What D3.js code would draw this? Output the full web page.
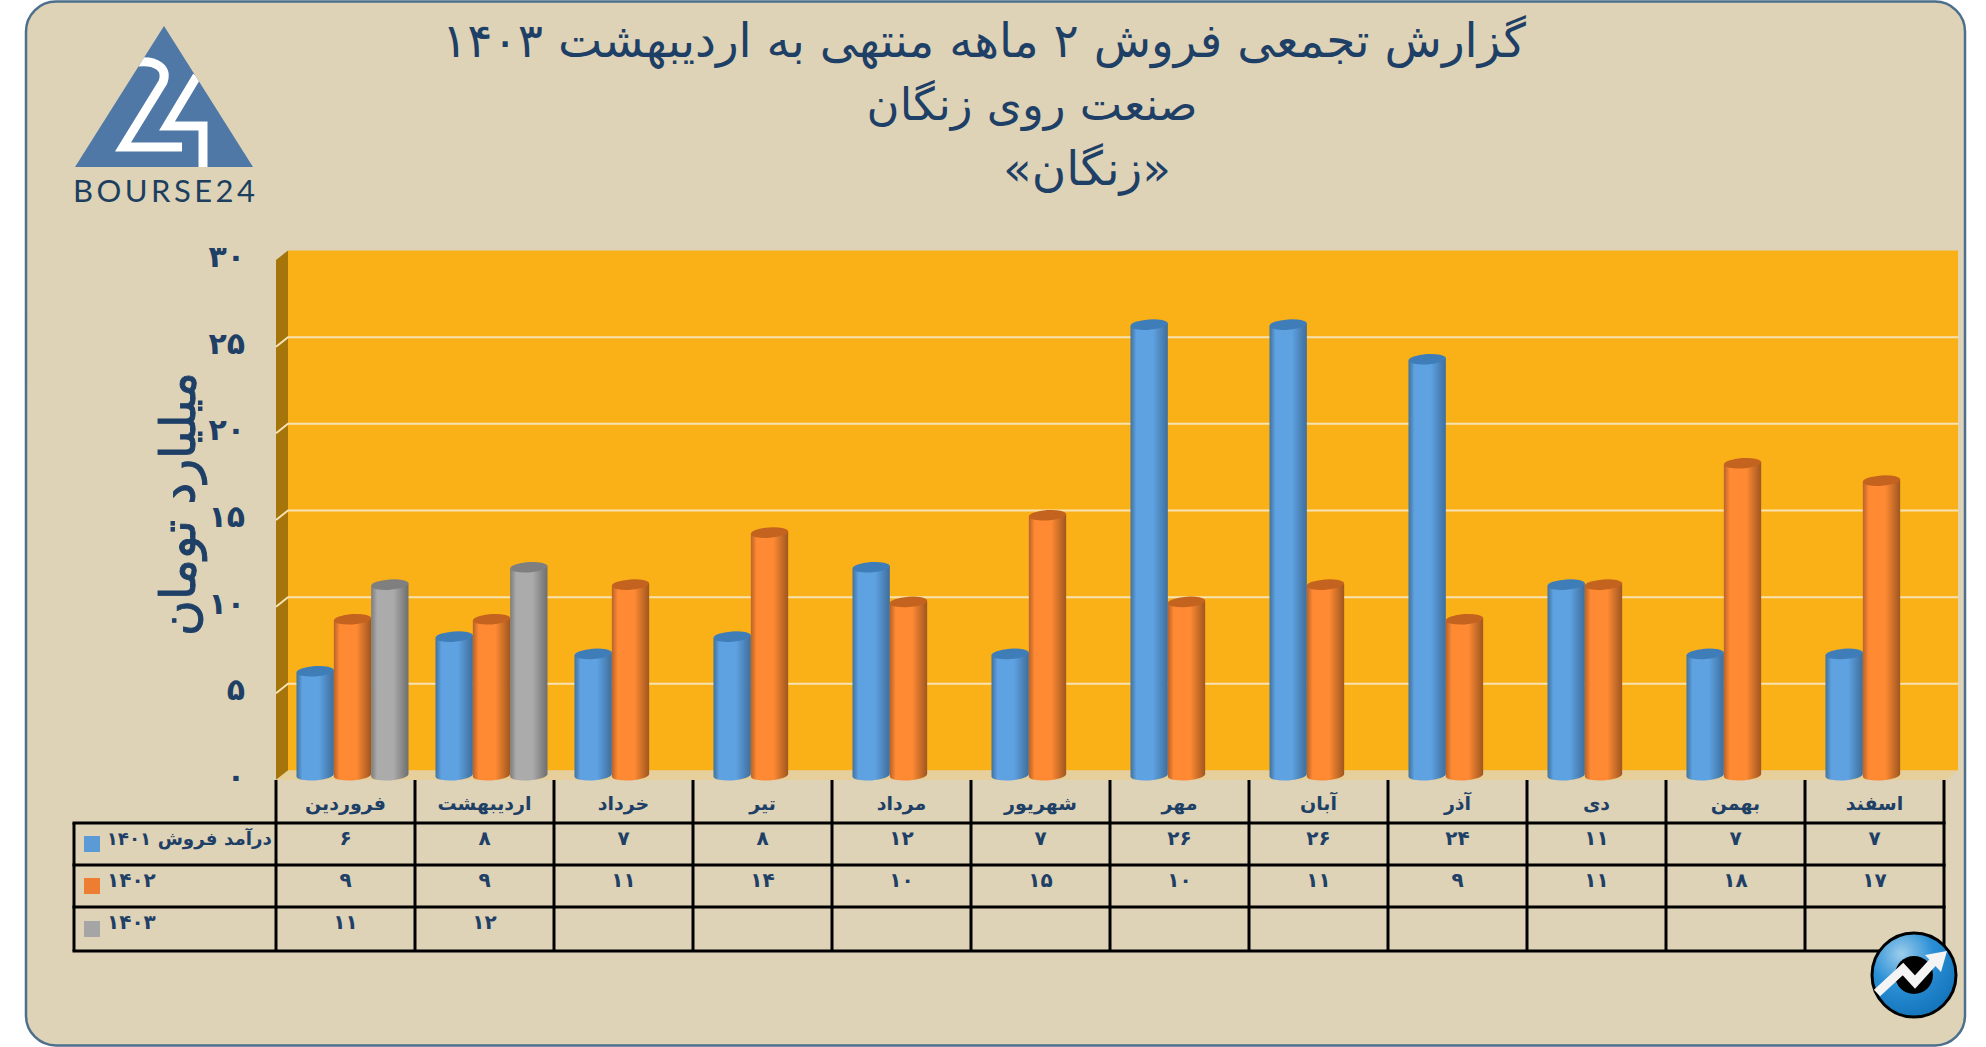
<!DOCTYPE html>
<html lang="fa"><head><meta charset="utf-8">
<script src="https://cdn.jsdelivr.net/npm/d3@7"></script>
<style>
html,body{margin:0;padding:0;background:#fff}
svg{display:block}
text{font-family:"DejaVu Sans",sans-serif;fill:#1E3F66}
.rtl{direction:rtl;unicode-bidi:plaintext}
</style></head><body>
<svg id="c" width="1986" height="1047"></svg>
<script>
const months=["فروردین","اردیبهشت","خرداد","تیر","مرداد","شهریور","مهر","آبان","آذر","دی","بهمن","اسفند"];
const seriesNames=["درآمد فروش ۱۴۰۱","۱۴۰۲","۱۴۰۳"];
const values1401=[6,8,7,8,12,7,26,26,24,11,7,7];
const values1402=[9,9,11,14,10,15,10,11,9,11,18,17];
const values1403=[11,12,null,null,null,null,null,null,null,null,null,null];
const seriesValues=[values1401,values1402,values1403];
const seriesColors=[
 {edgeL:"#41719C",mid:"#5EA2E2",edgeR:"#3F6E9C",top:"#3F7DB8",sw:"#5B9BD5"},
 {edgeL:"#B9622A",mid:"#FF8A33",edgeR:"#9F5620",top:"#C4621F",sw:"#ED7D31"},
 {edgeL:"#7C7C7C",mid:"#ABABAB",edgeR:"#6E6E6E",top:"#7F7F7F",sw:"#A5A5A5"}];
const titleLines=["گزارش تجمعی فروش ۲ ماهه منتهی به اردیبهشت ۱۴۰۳","صنعت روی زنگان","«زنگان»"];
const yTitle="میلیارد تومان";
const fa=n=>String(n).replace(/\d/g,d=>"۰۱۲۳۴۵۶۷۸۹"[d]);

const svg=d3.select("#c"), defs=svg.append("defs");
// panel
svg.append("rect").attr("x",26).attr("y",1.5).attr("width",1939).attr("height",1044).attr("rx",30)
  .attr("fill","#DED3B7").attr("stroke","#4C6F8C").attr("stroke-width",2.5);

// scales
const y=d3.scaleLinear().domain([0,30]).range([770.5,250.5]);
const tableL=276, tableR=1944, depthX=12, depthY=9.5;
const x0=d3.scaleBand().domain(months).range([tableL,tableR]);
const x1=d3.scaleBand().domain(d3.range(3)).range([20.5,132.5]);

// walls
svg.append("rect").attr("x",tableL+depthX).attr("y",y(30)).attr("width",1958-tableL-depthX).attr("height",y(0)-y(30)).attr("fill","#FAB118");
svg.append("path").attr("fill","#A5740B")
  .attr("d",d3.line()([[tableL,y(30)+depthY],[tableL+depthX,y(30)],[tableL+depthX,y(0)],[tableL,y(0)+depthY]])+"Z");
svg.append("path").attr("fill","#E6CF9B")
  .attr("d",d3.line()([[tableL,y(0)+depthY],[tableL+depthX,y(0)],[1958,y(0)],[1946,y(0)+depthY]])+"Z");

// grid
const ticks=y.ticks(6);
const grid=svg.append("g").attr("fill","none").attr("stroke","#F7E3B2").attr("stroke-width",2);
grid.selectAll("path").data(ticks.filter(t=>t>0&&t<30)).join("path")
  .attr("d",t=>d3.line()([[tableL,y(t)+depthY],[tableL+depthX,y(t)],[1958,y(t)]]));

// y axis
const axis=svg.append("g").attr("transform",`translate(245,${depthY-3})`)
  .call(d3.axisLeft(y).ticks(6).tickSize(0).tickPadding(0).tickFormat(fa));
axis.select(".domain").remove();
axis.selectAll("text").style("font-family",'"DejaVu Sans",sans-serif').style("font-size","30px").style("font-weight","700").style("fill","#1E3F66");
svg.append("text").attr("class","rtl").attr("transform","translate(195,504) rotate(-90)").attr("text-anchor","middle")
  .style("font-size","49px").style("stroke","#1E3F66").style("stroke-width","0.9").text(yTitle);

// gradients
seriesColors.forEach((c,i)=>{
  const g=defs.append("linearGradient").attr("id","cyl"+i);
  [[0,c.edgeL],[.16,c.mid],[.6,c.mid],[1,c.edgeR]].forEach(s=>g.append("stop").attr("offset",s[0]).attr("stop-color",s[1]));
});
// cylinders
const barW=x1.bandwidth(), rx=barW/2, ry=5.2, tiltDeg=-4, tiltY=rx*Math.sin(tiltDeg*Math.PI/180);
const baseOffset=depthY/2;
const groups=svg.append("g").selectAll("g").data(months).join("g").attr("transform",m=>`translate(${x0(m)},0)`);
seriesValues.forEach((vals,si)=>{
  const marks=groups.filter((m,i)=>vals[i]!=null).append("g").attr("transform",`translate(${x1(si)},0)`);
  const val=m=>vals[months.indexOf(m)];
  const topY=m=>y(val(m))+baseOffset, botY=y(0)+baseOffset;
  marks.append("path").attr("fill",`url(#cyl${si})`)
    .attr("d",m=>`M0,${topY(m)-tiltY}L0,${botY-tiltY}A${rx},${ry} ${tiltDeg} 0 0 ${barW},${botY+tiltY}L${barW},${topY(m)+tiltY}Z`);
  marks.append("ellipse").attr("rx",rx).attr("ry",ry).attr("fill",seriesColors[si].top)
    .attr("transform",m=>`translate(${rx},${topY(m)}) rotate(${tiltDeg})`);
});

// table
const rowY=[823,865,907,951], tableLeft=74;
const tl=svg.append("g").attr("stroke","#000").attr("stroke-width",3).attr("fill","none");
tl.selectAll(".h").data(rowY).join("line").attr("class","h").attr("x1",tableLeft-1.5).attr("x2",tableR+1.5).attr("y1",d=>d).attr("y2",d=>d);
const vx=months.map(m=>x0(m)).concat([tableR]);
tl.selectAll(".v").data(vx).join("line").attr("class","v").attr("x1",d=>d).attr("x2",d=>d).attr("y1",780).attr("y2",951);
tl.append("line").attr("x1",tableLeft).attr("x2",tableLeft).attr("y1",823).attr("y2",951);

svg.append("g").selectAll("text").data(months).join("text").attr("class","rtl")
  .attr("x",m=>x0(m)+x0.bandwidth()/2).attr("y",810).attr("text-anchor","middle")
  .style("font-size","19px").style("font-weight","700").text(m=>m);
const rowText=[845,886.5,928.5], swatchY=[836,878,921];
seriesValues.forEach((vals,si)=>{
  svg.append("g").selectAll("text").data(months.filter((m,i)=>vals[i]!=null)).join("text")
   .attr("x",m=>x0(m)+x0.bandwidth()/2).attr("y",rowText[si]).attr("text-anchor","middle")
   .style("font-size","20px").style("font-weight","700").text(m=>fa(vals[months.indexOf(m)]));
  svg.append("rect").attr("x",84).attr("y",swatchY[si]).attr("width",16).attr("height",16).attr("fill",seriesColors[si].sw);
  svg.append("text").attr("class","rtl").attr("x",si==0?272:107).attr("y",rowText[si])
   .attr("text-anchor",si==0?"start":"end").style("direction","rtl")
   .style("font-size",si==0?"18.3px":"20px").style("font-weight","700").text(seriesNames[si]);
});

// title
const title=svg.append("g").attr("text-anchor","middle");
[[984,57,47],[1032,120,45],[1087,185,47]].forEach((p,i)=>{
  title.append("text").attr("class","rtl").attr("x",p[0]).attr("y",p[1]).style("direction","rtl").style("font-size",p[2]+"px").text(titleLines[i]);
});

// logo
defs.append("clipPath").attr("id","tri").append("path").attr("d","M164,26L253,167L75,167Z");
const logo=svg.append("g");
logo.append("path").attr("d","M164,26L253,167L75,167Z").attr("fill","#4F78A6");
logo.append("path").attr("clip-path","url(#tri)").attr("fill","none").attr("stroke","#fff").attr("stroke-width",9)
  .attr("d","M138,62C156,60 168,68 163,82L123,147L182,147");
logo.append("path").attr("clip-path","url(#tri)").attr("fill","none").attr("stroke","#fff").attr("stroke-width",9)
  .attr("d","M197,76L167,126L203,126L203,167");
svg.append("text").attr("x",73).attr("y",202).attr("textLength",182).attr("lengthAdjust","spacing")
  .style("font-family","Lato,sans-serif").style("font-size","31px").style("fill","#1D3F5F").text("BOURSE24");

// badge
const rg=defs.append("radialGradient").attr("id","badge").attr("cx","35%").attr("cy","25%").attr("r","85%");
[[0,"#9CCDEB"],[.45,"#2A8FD6"],[1,"#0F6FB5"]].forEach(s=>rg.append("stop").attr("offset",s[0]).attr("stop-color",s[1]));
const b=svg.append("g");
b.append("circle").attr("cx",1914).attr("cy",975).attr("r",42).attr("fill","url(#badge)").attr("stroke","#000").attr("stroke-width",3);
b.append("circle").attr("cx",1914).attr("cy",975).attr("r",19).attr("fill","#000");
b.append("path").attr("fill","none").attr("stroke","#F4F4F4").attr("stroke-width",9).attr("d","M1877,993L1903,969L1915,982L1934,961");
b.append("path").attr("fill","#F4F4F4").attr("d","M1947,951L1941,972L1925,955Z");
</script></body></html>
